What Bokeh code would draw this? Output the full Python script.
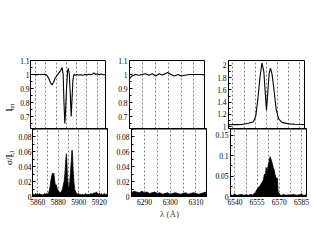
from bokeh.plotting import figure
from bokeh.layouts import row, column
from bokeh.models import Range1d, FixedTicker, Span
from bokeh.core.properties import value
from bokeh.embed import file_html
from bokeh.resources import INLINE
import math

FONT = "Liberation Serif"

# ---------------- data ----------------
# Panel 1: Na D region, normalised flux
lam1 = [5855, 5858, 5861, 5864, 5867, 5869, 5871, 5873, 5874.5, 5876, 5877.5, 5879, 5881, 5883,
        5884.5, 5885.8, 5886.8, 5887.6, 5888.4, 5889.2, 5890.2, 5891.2, 5891.9, 5892.8, 5893.8,
        5894.6, 5895.4, 5896.3, 5897.2, 5898.5, 5900, 5902, 5904, 5906, 5908, 5910, 5912, 5914,
        5916, 5917, 5918.5, 5920, 5922, 5924, 5926, 5929]
flux1 = [1.0, 1.0, 0.999, 1.0, 1.0, 1.002, 0.995, 0.97, 0.94, 0.926, 0.945, 0.975, 0.995, 1.015,
         1.03, 1.05, 1.0, 0.8, 0.65, 0.75, 0.92, 1.03, 1.045, 1.0, 0.85, 0.70, 0.82, 0.96, 1.0,
         0.995, 1.0, 0.996, 0.998, 0.995, 1.0, 0.996, 1.002, 0.998, 1.005, 1.012, 1.0, 1.005,
         0.998, 1.003, 0.998, 1.0]
lam1s = [5855, 5856, 5857, 5858, 5859, 5860, 5861, 5862, 5863, 5864, 5865, 5866, 5867, 5868, 5869,
         5870, 5871, 5872, 5873, 5874, 5874.6, 5875.3, 5875.8, 5876.5, 5877.2, 5878, 5879, 5880,
         5881, 5882, 5883, 5884, 5885, 5886, 5886.8, 5887.5, 5888, 5888.5, 5889, 5889.8, 5890.5,
         5891.2, 5892, 5892.8, 5893.5, 5894, 5894.6, 5895.3, 5896, 5897, 5898, 5899, 5900, 5901,
         5902, 5903, 5904, 5905, 5906, 5907, 5908, 5909, 5910, 5911, 5912, 5913, 5914, 5915, 5916,
         5917, 5918, 5919, 5920, 5921, 5922, 5923, 5924, 5925, 5926, 5927, 5928, 5929]
sig1 = [0.004, 0.003, 0.002, 0.004, 0.003, 0.002, 0.003, 0.004, 0.002, 0.003, 0.002, 0.003, 0.004,
        0.003, 0.004, 0.003, 0.006, 0.012, 0.022, 0.029, 0.031, 0.028, 0.031, 0.022, 0.015, 0.016,
        0.011, 0.008, 0.006, 0.005, 0.006, 0.009, 0.015, 0.022, 0.035, 0.050, 0.057, 0.045, 0.025,
        0.014, 0.010, 0.018, 0.032, 0.048, 0.062, 0.055, 0.035, 0.020, 0.010, 0.006, 0.004, 0.003,
        0.004, 0.002, 0.003, 0.002, 0.003, 0.002, 0.003, 0.004, 0.002, 0.003, 0.002, 0.003, 0.004,
        0.003, 0.004, 0.005, 0.004, 0.006, 0.005, 0.003, 0.004, 0.003, 0.004, 0.002, 0.003, 0.004,
        0.002, 0.003, 0.004, 0.003]

# Panel 2: 6300 region
lam2 = [6285, 6286, 6287.3, 6288.6, 6289.9, 6291.2, 6292.5, 6293.9, 6295.2, 6296.5, 6297.8,
        6299.8, 6301.1, 6302.4, 6303.8, 6305.1, 6306.4, 6308.4, 6310.4, 6312.4, 6314.5]
flux2 = [0.97, 0.99, 1.0, 0.995, 1.0, 1.005, 0.995, 1.005, 0.99, 1.005, 0.997, 1.015, 1.0, 0.99,
         1.0, 0.99, 0.995, 1.0, 1.0, 1.0, 0.997]
lam2s = [6285, 6286, 6287, 6288, 6289, 6290, 6291, 6292, 6293, 6294, 6295, 6296, 6297, 6298, 6299,
         6300, 6301, 6302, 6303, 6304, 6305, 6306, 6307, 6308, 6309, 6310, 6311, 6312, 6313, 6314,
         6314.5]
sig2 = [0.005, 0.007, 0.006, 0.005, 0.007, 0.005, 0.006, 0.004, 0.005, 0.006, 0.004, 0.005, 0.003,
        0.004, 0.005, 0.003, 0.004, 0.005, 0.004, 0.003, 0.004, 0.005, 0.003, 0.004, 0.005, 0.004,
        0.003, 0.004, 0.005, 0.006, 0.004]

# Panel 3: H-alpha region
lam3 = [6537, 6541.5, 6546, 6550.5, 6553.9, 6555.5, 6556.9, 6558.2, 6559.6, 6560.9, 6561.8,
        6562.7, 6563.6, 6564.5, 6565.4, 6566.5, 6567.9, 6569.2, 6570.8, 6573.1, 6577.5, 6582.1,
        6588.4]
flux3 = [1.03, 1.033, 1.035, 1.055, 1.08, 1.18, 1.46, 1.79, 2.04, 1.90, 1.57, 1.27, 1.57, 1.87,
         1.957, 1.85, 1.57, 1.29, 1.13, 1.07, 1.045, 1.04, 1.035]
lam3s = [6537, 6538.5, 6540, 6541.5, 6543, 6544.5, 6546, 6547.5, 6549, 6550.5, 6552, 6553.9,
         6555, 6556.2, 6557.3, 6558.4, 6559.2, 6560, 6560.6, 6561.1, 6561.8, 6562.4, 6563,
         6563.8, 6564.7, 6565.3, 6565.9, 6566.5, 6567, 6568.1, 6568.7, 6569.2, 6570, 6571.5, 6573,
         6574.5, 6576, 6577.5, 6579, 6580.5, 6582, 6583.5, 6585, 6586.5, 6588.4]
sig3 = [0.004, 0.003, 0.005, 0.003, 0.004, 0.005, 0.003, 0.004, 0.003, 0.005, 0.004, 0.010,
        0.018, 0.023, 0.028, 0.035, 0.040, 0.055, 0.050, 0.071, 0.060, 0.075, 0.084, 0.097, 0.088,
        0.080, 0.071, 0.065, 0.055, 0.043, 0.045, 0.012, 0.004, 0.003, 0.005, 0.003, 0.004, 0.003,
        0.005, 0.004, 0.003, 0.004, 0.005, 0.003, 0.004]

# axes / ticks
xr = [(5855, 5929), (6285, 6314.5), (6537, 6588.4)]
xticks = [[5860, 5880, 5900, 5920], [6290, 6300, 6310], [6540, 6555, 6570, 6585]]
xgrid = [[5860, 5870, 5880, 5890, 5900, 5910, 5920],
         [6290, 6295, 6300, 6305, 6310],
         [6540, 6547.5, 6555, 6562.5, 6570, 6577.5, 6585]]
yr_top = [(0.615, 1.1), (0.615, 1.1), (0.97, 2.08)]
yt_top = [[0.7, 0.8, 0.9, 1.0, 1.1], [0.7, 0.8, 0.9, 1.0, 1.1], [1.0, 1.2, 1.4, 1.6, 1.8, 2.0]]
ym_top = [[0.65, 0.75, 0.85, 0.95, 1.05], [0.65, 0.75, 0.85, 0.95, 1.05],
          [1.1, 1.3, 1.5, 1.7, 1.9]]
yl_top = [["0.7", "0.8", "0.9", "1", "1.1"], ["0.7", "0.8", "0.9", "1", "1.1"],
          ["1", "1.2", "1.4", "1.6", "1.8", "2"]]
yr_bot = [(0, 0.0907), (0, 0.0907), (0, 0.166)]
yt_bot = [[0, 0.02, 0.04, 0.06, 0.08], [0, 0.02, 0.04, 0.06, 0.08], [0, 0.05, 0.1, 0.15]]
ym_bot = [[0.01, 0.03, 0.05, 0.07, 0.09], [0.01, 0.03, 0.05, 0.07, 0.09],
          [0.025, 0.075, 0.125]]
yl_bot = [["0", "0.02", "0.04", "0.06", "0.08"], ["0", "0.02", "0.04", "0.06", "0.08"],
          ["0", "0.05", "0.1", "0.15"]]

TITLE_W = 15
lefts = [30 - TITLE_W, 23, 23]
rights = [0, 0, 5]
OVER = 6
TOP_H = 60 + 68 + OVER
BOT_H = 68 + 30


def style_axis(ax, ticks, minor, labels=None):
    ax.ticker = FixedTicker(ticks=ticks, minor_ticks=minor)
    ax.major_tick_in = 3
    ax.major_tick_out = 0
    ax.minor_tick_in = 2
    ax.minor_tick_out = 0
    ax.axis_line_color = "black"
    ax.major_tick_line_color = "black"
    ax.minor_tick_line_color = "black"
    ax.major_label_text_font = FONT
    ax.major_label_text_font_size = "7.5px"
    ax.major_label_text_color = "black"
    ax.major_label_standoff = 2
    if labels is not None:
        ax.major_label_overrides = {t: l for t, l in zip(ticks, labels)}


def make(i, top):
    p = figure(frame_width=76, frame_height=68,
               x_range=Range1d(*xr[i]),
               y_range=Range1d(*(yr_top[i] if top else yr_bot[i])),
               output_backend="svg", toolbar_location=None,
               min_border_left=lefts[i], min_border_right=rights[i],
               min_border_top=60 if top else 0, min_border_bottom=OVER if top else 30)
    p.outline_line_color = "black"
    p.outline_line_width = 1
    p.background_fill_color = "white"
    p.border_fill_color = "white" if top else None
    p.ygrid.visible = False
    p.xgrid.ticker = FixedTicker(ticks=xgrid[i])
    p.xgrid.grid_line_color = "#808080"
    p.xgrid.grid_line_dash = "2 2"
    p.xgrid.grid_line_width = 1
    yt = yt_top[i] if top else yt_bot[i]
    ym = ym_top[i] if top else ym_bot[i]
    yl = yl_top[i] if top else yl_bot[i]
    style_axis(p.yaxis[0], yt, ym, yl)
    if i == 0:
        p.yaxis.major_label_standoff = 1
    xminor = [g for g in xgrid[i] if g not in xticks[i]]
    style_axis(p.xaxis[0], xticks[i], xminor)
    if top:
        p.xaxis.visible = False
    else:
        # thick divider between the two stacked panels
        p.add_layout(Span(location=p.y_range.end, dimension="width",
                          line_color="black", line_width=2))
    return p


tops = [make(i, True) for i in range(3)]
bots = [make(i, False) for i in range(3)]

tops[0].line(lam1, flux1, line_color="black", line_width=1.1)
tops[1].line(lam2, flux2, line_color="black", line_width=1.1)
tops[2].line(lam3, flux3, line_color="black", line_width=1.1)

for p, lx, sy in [(bots[0], lam1s, sig1), (bots[1], lam2s, sig2), (bots[2], lam3s, sig3)]:
    p.varea(x=lx, y1=[0] * len(lx), y2=sy, fill_color="black")
    p.line(lx, sy, line_color="black", line_width=0.8)

bots[1].xaxis.axis_label = "λ (Å)"
bots[1].xaxis.axis_label_text_font = FONT
bots[1].xaxis.axis_label_text_font_style = "normal"
bots[1].xaxis.axis_label_text_font_size = "9px"
bots[1].xaxis.axis_label_standoff = 1


# narrow strips (no title, no axes) carrying the rotated y-axis titles; pixel units
def title_strip(h, main, sub, main_y, sub_y):
    t = figure(width=TITLE_W, height=h, title=None,
               x_range=Range1d(0, TITLE_W), y_range=Range1d(0, h),
               x_axis_type=None, y_axis_type=None, output_backend="svg",
               toolbar_location=None, min_border=0, min_border_left=0, min_border_right=0,
               min_border_top=0, min_border_bottom=0)
    t.outline_line_color = None
    t.background_fill_color = None
    t.border_fill_color = None
    t.text(x=[8.5], y=[main_y], text=[main], angle=math.pi / 2, text_font=value(FONT),
           text_font_size="9px", text_color="black", text_baseline="middle",
           text_align="center")
    t.text(x=[11], y=[sub_y], text=[sub], angle=math.pi / 2, text_font=value(FONT),
           text_font_size="6px", text_color="black", text_baseline="middle",
           text_align="center")
    return t


ttop = title_strip(TOP_H, "I", "tot", 36.5, 42.5)
tbot = title_strip(BOT_H, "σ/I", "c,l", 53, 61.5)

layout = column(row(ttop, *tops, spacing=0),
                row(tbot, *bots, spacing=0, margin=(-OVER, 0, 0, 0)),
                spacing=0)

open("out.html", "w").write(file_html(layout, INLINE))
